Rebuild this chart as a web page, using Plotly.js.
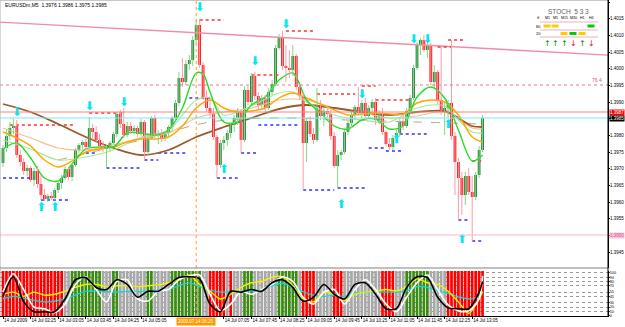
<!DOCTYPE html>
<html><head><meta charset="utf-8">
<script src="https://cdn.plot.ly/plotly-3.0.1.min.js"></script>
<style>html,body{margin:0;padding:0;background:#fff;}#chart{width:625px;height:327px;}</style>
</head><body><div id="chart"></div>
<script>
// ---------- DATA ----------
const symbolName = 'EURUSDm,M5';
const openP = [1.39717,1.39762,1.39798,1.39822,1.39828,1.39741,1.39720,1.39693,1.39702,1.39666,1.39693,1.39654,1.39621,1.39609,1.39618,1.39612,1.39636,1.39657,1.39672,1.39699,
1.39675,1.39711,1.39756,1.39771,1.39780,1.39765,1.39822,1.39810,1.39786,1.39768,1.39759,1.39765,1.39777,1.39804,1.39864,1.39834,1.39801,1.39828,1.39813,1.39822,
1.39804,1.39840,1.39750,1.39792,1.39852,1.39798,1.39807,1.39792,1.39807,1.39825,1.39852,1.39897,1.39972,1.39960,1.40014,1.40026,1.40086,1.40131,1.40011,1.39915,
1.39882,1.39867,1.39795,1.39711,1.39777,1.39786,1.39807,1.39831,1.39852,1.39870,1.39786,1.39936,1.39900,1.39978,1.39918,1.39891,1.39912,1.39882,1.39930,1.39954,
1.40062,1.40092,1.40008,1.40002,1.39996,1.40038,1.39945,1.39918,1.39777,1.39843,1.39804,1.39786,1.39888,1.39858,1.39873,1.39864,1.39798,1.39708,1.39741,1.39750,
1.39810,1.39837,1.39861,1.39885,1.39867,1.39897,1.39858,1.39882,1.39900,1.39846,1.39867,1.39810,1.39774,1.39765,1.39792,1.39807,1.39843,1.39828,1.39873,1.39912,
1.40002,1.40071,1.40086,1.40056,1.40071,1.39960,1.39990,1.39906,1.39870,1.39882,1.39897,1.39798,1.39720,1.39672,1.39621,1.39678,1.39630,1.39615,1.39681,1.39756];
const highP = [1.39771,1.39816,1.39840,1.39852,1.39846,1.39756,1.39732,1.39711,1.39708,1.39702,1.39708,1.39681,1.39639,1.39624,1.39630,1.39642,1.39666,1.39681,1.39708,1.39705,
1.39717,1.39762,1.39777,1.39786,1.39789,1.39855,1.39834,1.39828,1.39804,1.39783,1.39771,1.39783,1.39810,1.39870,1.39876,1.39882,1.39840,1.39840,1.39831,1.39828,
1.39849,1.39846,1.39801,1.39858,1.39861,1.39816,1.39819,1.39813,1.39831,1.39858,1.39906,1.39990,1.40032,1.40026,1.40041,1.40098,1.40146,1.40149,1.40020,1.39936,
1.39906,1.39882,1.39801,1.39786,1.39798,1.39816,1.39840,1.39861,1.39882,1.39876,1.39948,1.39948,1.39987,1.39990,1.39930,1.39921,1.39921,1.39942,1.39966,1.40071,
1.40104,1.40113,1.40071,1.40056,1.40071,1.40044,1.39954,1.39927,1.39852,1.39858,1.39822,1.39942,1.39906,1.39882,1.39888,1.39876,1.39810,1.39756,1.39756,1.39816,
1.39846,1.39870,1.39891,1.39945,1.39906,1.39912,1.39891,1.39909,1.39912,1.39876,1.39882,1.39816,1.39792,1.39801,1.39816,1.39852,1.39861,1.39882,1.39921,1.40011,
1.40080,1.40092,1.40101,1.40092,1.40077,1.40011,1.39996,1.40065,1.39897,1.39906,1.40086,1.39810,1.39732,1.39690,1.39690,1.39702,1.39678,1.39690,1.39768,1.39861];
const lowP = [1.39705,1.39750,1.39786,1.39804,1.39732,1.39708,1.39681,1.39678,1.39660,1.39648,1.39642,1.39606,1.39603,1.39600,1.39606,1.39606,1.39627,1.39639,1.39666,1.39666,
1.39663,1.39705,1.39747,1.39759,1.39756,1.39759,1.39786,1.39777,1.39762,1.39750,1.39702,1.39753,1.39771,1.39795,1.39822,1.39792,1.39795,1.39804,1.39804,1.39795,
1.39798,1.39726,1.39741,1.39786,1.39792,1.39774,1.39780,1.39783,1.39798,1.39813,1.39843,1.39888,1.39945,1.39951,1.39996,1.40008,1.40074,1.40002,1.39906,1.39870,
1.39852,1.39786,1.39672,1.39702,1.39756,1.39768,1.39792,1.39810,1.39831,1.39747,1.39780,1.39891,1.39894,1.39906,1.39876,1.39876,1.39870,1.39876,1.39921,1.39948,
1.40056,1.39996,1.39960,1.39972,1.39978,1.39936,1.39906,1.39636,1.39720,1.39795,1.39774,1.39780,1.39846,1.39828,1.39852,1.39786,1.39702,1.39642,1.39726,1.39744,
1.39801,1.39822,1.39846,1.39858,1.39852,1.39846,1.39852,1.39870,1.39831,1.39834,1.39801,1.39768,1.39756,1.39756,1.39786,1.39798,1.39816,1.39822,1.39867,1.39906,
1.39996,1.40041,1.40050,1.40032,1.39951,1.39942,1.39894,1.39861,1.39801,1.39852,1.39786,1.39621,1.39546,1.39561,1.39591,1.39621,1.39483,1.39606,1.39672,1.39750];
const closeP = [1.39762,1.39798,1.39822,1.39828,1.39741,1.39720,1.39693,1.39702,1.39666,1.39693,1.39654,1.39621,1.39609,1.39618,1.39612,1.39636,1.39657,1.39672,1.39699,1.39675,
1.39711,1.39756,1.39771,1.39780,1.39765,1.39822,1.39810,1.39786,1.39768,1.39759,1.39765,1.39777,1.39804,1.39864,1.39834,1.39801,1.39828,1.39813,1.39822,1.39804,
1.39840,1.39750,1.39792,1.39852,1.39798,1.39807,1.39792,1.39807,1.39825,1.39852,1.39897,1.39972,1.39960,1.40014,1.40026,1.40086,1.40131,1.40011,1.39915,1.39882,
1.39867,1.39795,1.39711,1.39777,1.39786,1.39807,1.39831,1.39852,1.39870,1.39786,1.39936,1.39900,1.39978,1.39918,1.39891,1.39912,1.39882,1.39930,1.39954,1.40062,
1.40092,1.40008,1.40002,1.39996,1.40038,1.39945,1.39918,1.39777,1.39843,1.39804,1.39786,1.39888,1.39858,1.39873,1.39864,1.39798,1.39708,1.39741,1.39750,1.39810,
1.39837,1.39861,1.39885,1.39867,1.39897,1.39858,1.39882,1.39900,1.39846,1.39867,1.39810,1.39774,1.39765,1.39792,1.39807,1.39843,1.39828,1.39873,1.39912,1.40002,
1.40071,1.40086,1.40056,1.40071,1.39960,1.39990,1.39906,1.39870,1.39882,1.39897,1.39798,1.39720,1.39672,1.39621,1.39678,1.39630,1.39615,1.39681,1.39756,1.39852];

// moving averages (bar index, price)
const fastIdx = [0,4,8,12,16,20,24,28,32,36,40,44,48,52,56,58,60,64,68,72,76,80,84,88,92,96,100,104,108,112,116,120,124,128,132,136,139];
const fastMA  = [1.39759,1.39777,1.39732,1.39672,1.39663,1.39714,1.39759,1.39765,1.39765,1.39807,1.39807,1.39801,1.39816,1.39882,1.39987,1.39984,1.39930,1.39840,1.39840,1.39891,1.39915,1.39966,1.39987,1.39906,1.39867,1.39828,1.39819,1.39846,1.39849,1.39819,1.39828,1.39915,1.39945,1.39912,1.39816,1.39723,1.39741];
const midIdx  = [0,4,8,12,16,20,24,28,32,36,40,44,48,52,56,60,64,68,72,76,80,84,88,92,96,100,104,108,112,116,120,124,128,132,136,139];
const midMA   = [1.39810,1.39792,1.39768,1.39726,1.39705,1.39723,1.39750,1.39759,1.39765,1.39780,1.39789,1.39789,1.39795,1.39828,1.39882,1.39906,1.39882,1.39870,1.39873,1.39882,1.39912,1.39927,1.39912,1.39894,1.39876,1.39861,1.39864,1.39867,1.39864,1.39864,1.39897,1.39906,1.39900,1.39861,1.39795,1.39780];
const slowIdx = [0,8,16,24,32,40,48,56,64,72,80,88,96,104,112,120,128,132,136,139];
const slowMA  = [1.39894,1.39870,1.39834,1.39795,1.39762,1.39741,1.39756,1.39795,1.39825,1.39852,1.39879,1.39891,1.39882,1.39870,1.39861,1.39870,1.39873,1.39852,1.39828,1.39825];
const lightIdx = [0,8,16,24,32,40,48,56,60,64,72,80,84,88,96,104,112,120,128,132,136,139];
const lightMA  = [1.39786,1.39759,1.39726,1.39735,1.39756,1.39795,1.39816,1.39906,1.39912,1.39861,1.39888,1.39927,1.39930,1.39900,1.39861,1.39846,1.39840,1.39882,1.39888,1.39846,1.39810,1.39807];
const tanIdx = [0,8,16,24,32,40,48,56,64,72,80,88,96,104,112,120,128,136,139];
const tanMA  = [1.39822,1.39792,1.39762,1.39756,1.39771,1.39792,1.39807,1.39852,1.39870,1.39882,1.39906,1.39906,1.39882,1.39870,1.39852,1.39858,1.39870,1.39822,1.39819];
const dashIdx = [16,40,60,80,100,120,139];
const dashMA  = [1.39726,1.39786,1.39840,1.39852,1.39846,1.39840,1.39834];

// signal arrows
const downArrowIdx = [4,25,35,57,73,82,104,119,123];
const downArrowP   = [1.39867,1.39885,1.39897,1.40182,1.40020,1.40131,1.39921,1.40086,1.40086];
const upArrowIdx   = [11,15,64,98,114,129,133];
const upArrowP     = [1.39582,1.39582,1.39696,1.39591,1.39786,1.39831,1.39486];

// dotted resistance / support segments
const resStart = [2,25,57,72,82,91,104,108,126,129,136];
const resEnd   = [21,35,64,80,90,102,108,118,130,134,139];
const resPrice = [1.39831,1.39867,1.40146,1.39981,1.40113,1.39924,1.39948,1.39906,1.40065,1.40086,1.39723];
const supStart = [0,11,24,30,41,45,54,62,69,74,87,97,106,111,115,132,136];
const supEnd   = [9,19,27,40,45,53,60,68,74,86,96,105,111,116,123,135,139];
const supPrice = [1.39672,1.39606,1.39747,1.39702,1.39726,1.39747,1.39912,1.39672,1.39747,1.39831,1.39636,1.39642,1.39762,1.39753,1.39804,1.39546,1.39483];

// horizontal levels & trend line anchors
const askPrice = 1.39870, bidPrice = 1.39852, lowLevel = 1.39501, fibLevel = 1.39951, fibText = '76.4';
const trendAnchorIdx = [0,139];
const trendAnchorP   = [1.40139,1.40061];
const markerBar = 56, markerLabel = '2009.07.14 06:25';

// axes labels
const priceTicks = [1.3945,1.3950,1.3955,1.3960,1.3965,1.3970,1.3975,1.3980,1.3985,1.3990,1.3995,1.4000,1.4005,1.4010,1.4015,1.4020];
const xTickIdx  = [0,8,16,24,32,40,64,72,80,88,96,104,112,120,128,136];
const xTickText = ['14 Jul 2009','14 Jul 02:25','14 Jul 03:05','14 Jul 03:45','14 Jul 04:25','14 Jul 05:05','14 Jul 07:05','14 Jul 07:45','14 Jul 08:25','14 Jul 09:05','14 Jul 09:45','14 Jul 10:25','14 Jul 11:05','14 Jul 11:45','14 Jul 12:25','14 Jul 13:05'];

// sub-window: trend state per bar and oscillators (0-100)
const trendState = ['RRRRRRRRRRRRRRRRRR','NN','GGGGGGGGG','NNN','GG','NNNNNNNN','GG','NNNNN','GGGGGGGGG','NN','RRRRR','N','R','NNN','GGG','NNNNNNN','GGGGGG','N','RRRR','NNNNN','RRR','NNNNNNNNNNN','RRRR','NNN','GGGGGGG','NNNNN','RRRRRRRRRRR'].join('').split('');
const oscIdx = [0,3,6,9,12,15,18,21,24,27,30,33,36,39,42,45,48,51,54,57,60,63,66,69,72,75,78,81,84,87,90,93,96,99,102,105,108,111,114,117,120,123,126,129,132,135,138,139];
const blackOsc  = [45,91,32,9,9,9,39,84,89,66,61,84,73,43,57,57,73,89,91,86,27,9,57,55,61,57,77,84,66,34,43,73,50,39,73,77,50,16,16,66,91,89,43,18,16,16,55,80];
const whiteOsc  = [55,98,61,20,16,7,27,73,91,61,32,80,84,39,34,57,61,84,93,95,50,11,27,57,50,61,73,91,80,43,27,55,61,27,61,84,61,27,9,43,77,95,61,25,11,11,39,93];
const yellowOsc = [50,55,45,55,48,50,57,66,73,73,68,70,70,68,70,72,77,86,95,73,57,39,50,66,77,80,90,91,70,39,32,55,50,36,50,55,57,61,58,68,86,77,73,57,32,5,40,55];
const cyanOsc   = [39,45,41,36,32,34,39,48,57,57,56,55,57,57,57,59,61,70,77,68,60,55,56,57,58,61,70,76,66,56,48,45,48,45,52,55,56,55,55,58,68,66,58,52,44,39,45,57];
const oscLevels = [100,90,80,70,55,45,30,20,10,0];

// multi-timeframe stochastic panel
const stochTitle = 'STOCH  5 3 3';
const tfLabels = ['M1','M5','M15','M30','H1','H4'];
const tfZone   = ['80','80','20','20','20','80'];
const tfZoneCol= ['Y','Y','Y','G','Y','G'];
const tfDir    = ['up','up','up','down','up','down'];

// ---------- BUILD ----------
const N = closeP.length;
const idx = Array.from({length:N},(_,i)=>i);
const traces = [];

// subwindow state columns
const Y2MIN = -1, Y2MAX = 104.5;
const stateColor = {R:'#ff0000', G:'#3b8a14', N:'#a8a8a8'};
traces.push({type:'bar', x:idx, y:idx.map(()=>Y2MAX-Y2MIN), base:Y2MIN, width:0.78,
  marker:{color:trendState.map(s=>stateColor[s]), line:{width:0}}, xaxis:'x', yaxis:'y2', hoverinfo:'skip'});
// oscillators
[[cyanOsc,'#00e0e0',1.2],[yellowOsc,'#f0f000',1.4],[whiteOsc,'#ffffff',1.6],[blackOsc,'#000000',1.6]].forEach(([v,c,w])=>{
  traces.push({type:'scatter',mode:'lines',x:oscIdx,y:v,xaxis:'x',yaxis:'y2',line:{color:c,width:w,shape:'spline',smoothing:0.8},hoverinfo:'skip'});
});

// trend line (ray through two anchors)
const tSlope = (trendAnchorP[1]-trendAnchorP[0])/(trendAnchorIdx[1]-trendAnchorIdx[0]);
const xr0 = -0.87, xr1 = 175.36;
traces.push({type:'scatter',mode:'lines',x:[xr0,xr1],y:[trendAnchorP[0]+tSlope*(xr0-trendAnchorIdx[0]), trendAnchorP[0]+tSlope*(xr1-trendAnchorIdx[0])],
  line:{color:'#f08ca8',width:1.4},xaxis:'x',yaxis:'y',hoverinfo:'skip'});

// dotted segments
function segs(s,e,p){const X=[],Y=[];s.forEach((v,k)=>{X.push(v,e[k],null);Y.push(p[k],p[k],null);});return [X,Y];}
const [rX,rY] = segs(resStart,resEnd,resPrice);
const [sX,sY] = segs(supStart,supEnd,supPrice);
traces.push({type:'scatter',mode:'lines',x:rX,y:rY,line:{color:'#ff3030',width:1.5,dash:'dot'},xaxis:'x',yaxis:'y',hoverinfo:'skip'});
traces.push({type:'scatter',mode:'lines',x:sX,y:sY,line:{color:'#3030ff',width:1.5,dash:'dot'},xaxis:'x',yaxis:'y',hoverinfo:'skip'});

// moving averages
[[dashIdx,dashMA,'#c9a27e',1,'dash'],[tanIdx,tanMA,'#f5c08a',1.2,'solid'],[slowIdx,slowMA,'#9a5a2a',1.8,'solid'],
 [lightIdx,lightMA,'#a8e8a0',1.2,'solid'],[midIdx,midMA,'#ffa500',1.4,'solid'],[fastIdx,fastMA,'#22dd22',1.4,'solid']].forEach(([x,y,c,w,d])=>{
  traces.push({type:'scatter',mode:'lines',x:x,y:y,line:{color:c,width:w,dash:d,shape:'spline',smoothing:0.9},xaxis:'x',yaxis:'y',hoverinfo:'skip'});
});

// wicks
const uwX=[],uwY=[],dwX=[],dwY=[];
for(let i=0;i<N;i++){
  if(closeP[i]>=openP[i]){uwX.push(i,i,null);uwY.push(lowP[i],highP[i],null);}
  else {dwX.push(i,i,null);dwY.push(lowP[i],highP[i],null);}
}
traces.push({type:'scatter',mode:'lines',x:uwX,y:uwY,line:{color:'#80d880',width:1},xaxis:'x',yaxis:'y',hoverinfo:'skip'});
traces.push({type:'scatter',mode:'lines',x:dwX,y:dwY,line:{color:'#ff9aa8',width:1},xaxis:'x',yaxis:'y',hoverinfo:'skip'});
// bodies
traces.push({type:'bar',x:idx,base:openP,y:idx.map(i=>closeP[i]-openP[i]),width:0.8,
  marker:{color:idx.map(i=>closeP[i]>=openP[i]?'#1f7f35':'#ff1010'),line:{width:0}},xaxis:'x',yaxis:'y',hoverinfo:'skip'});

// arrows
traces.push({type:'scatter',mode:'text',x:downArrowIdx,y:downArrowP,text:downArrowIdx.map(()=>'⬇'),
  textfont:{family:'DejaVu Sans',size:12,color:'#00e8f0'},xaxis:'x',yaxis:'y',hoverinfo:'skip'});
traces.push({type:'scatter',mode:'text',x:upArrowIdx,y:upArrowP,text:upArrowIdx.map(()=>'⬆'),
  textfont:{family:'DejaVu Sans',size:12,color:'#00e8f0'},xaxis:'x',yaxis:'y',hoverinfo:'skip'});

// ---------- LAYOUT ----------
const PW = 608, PH = 316;
const px = v => v/PW, py = v => 1 - v/PH;
const mainBottom = (PH-268)/PH, subTop = (PH-271)/PH;
const shapes = [
  {type:'line',xref:'paper',yref:'y',x0:0,x1:1,y0:askPrice,y1:askPrice,line:{color:'#ff8080',width:1}},
  {type:'line',xref:'paper',yref:'y',x0:0,x1:1,y0:bidPrice,y1:bidPrice,line:{color:'#70f0f0',width:1}},
  {type:'line',xref:'paper',yref:'y',x0:0,x1:1,y0:lowLevel,y1:lowLevel,line:{color:'#ffb4c8',width:1}},
  {type:'line',xref:'paper',yref:'y',x0:0,x1:1,y0:fibLevel,y1:fibLevel,line:{color:'#e07c90',width:1,dash:'dot'}},
  {type:'line',xref:'x',yref:'paper',x0:markerBar,x1:markerBar,y0:0,y1:1,line:{color:'#ffa020',width:1,dash:'dot'}},
  {type:'line',xref:'paper',yref:'paper',x0:0,x1:1,y0:1,y1:1,line:{color:'#909090',width:1}},
  {type:'line',xref:'paper',yref:'paper',x0:0,x1:0,y0:0,y1:1,line:{color:'#b0b0b0',width:1}},
  {type:'line',xref:'paper',yref:'paper',x0:0,x1:1,y0:mainBottom,y1:mainBottom,line:{color:'#808080',width:1}},
  {type:'line',xref:'paper',yref:'paper',x0:1,x1:1,y0:0,y1:1,line:{color:'#000',width:1}}
];
const annotations = [
  {xref:'paper',yref:'paper',x:px(3),y:py(5),xanchor:'left',yanchor:'middle',showarrow:false,
   text:symbolName+'  '+[openP[N-1],highP[N-1],lowP[N-1],closeP[N-1]].map(v=>v.toFixed(4)).join(' '),font:{size:5,color:'#000'}},
  {xref:'paper',yref:'y',x:1,xanchor:'left',xshift:1,y:askPrice,showarrow:false,text:askPrice.toFixed(4),bgcolor:'#ff0000',font:{size:4.5,color:'#fff'},borderpad:0},
  {xref:'paper',yref:'y',x:1,xanchor:'left',xshift:1,y:bidPrice,showarrow:false,text:bidPrice.toFixed(4),bgcolor:'#000000',font:{size:4.5,color:'#fff'},borderpad:0},
  {xref:'paper',yref:'y',x:1,xanchor:'left',xshift:1,y:lowLevel,showarrow:false,text:lowLevel.toFixed(4),bgcolor:'#ffc0d8',font:{size:4.5,color:'#c060a0'},borderpad:0},
  {xref:'paper',yref:'y',x:px(604),xanchor:'right',y:fibLevel,yanchor:'bottom',showarrow:false,text:fibText,font:{size:5,color:'#d06070'}},
  {xref:'x',yref:'paper',x:markerBar,xanchor:'center',y:0,yanchor:'top',yshift:-1,showarrow:false,text:markerLabel,bgcolor:'#ff9a00',font:{size:4.5,color:'#fff'},borderpad:1},
  {xref:'paper',yref:'paper',x:px(568),xanchor:'center',y:py(12),yanchor:'middle',showarrow:false,text:stochTitle,font:{size:6.5,color:'#606060'}}
];
// stoch table
const tfCols = [547,555,564,573,582,591];
const zoneRowY = {'80':26,'20':33.5};
[22,30,37].forEach(yy=>shapes.push({type:'line',xref:'paper',yref:'paper',x0:px(540),x1:px(598),y0:py(yy),y1:py(yy),line:{color:'#f0b0c0',width:1}}));
const cAnn = (x,y,text,font)=>({xref:'paper',yref:'paper',x:px(x),y:py(y),xanchor:'center',yanchor:'middle',showarrow:false,text:text,font:font});
annotations.push(cAnn(538,18,'tf',{size:4,color:'#000'}));
annotations.push(cAnn(538,zoneRowY['80'],'80',{size:4,color:'#000'}));
annotations.push(cAnn(538,zoneRowY['20'],'20',{size:4,color:'#000'}));
tfLabels.forEach((t,k)=>{
  const c = tfCols[k];
  annotations.push(cAnn(c,18,t,{size:3.6,color:'#000'}));
  const ry = zoneRowY[tfZone[k]];
  shapes.push({type:'rect',xref:'paper',yref:'paper',x0:px(c-3.5),x1:px(c+3.5),y0:py(ry+1.5),y1:py(ry-1.5),
    fillcolor: tfZoneCol[k]==='G'?'#00cc00':'#ffcc00',line:{width:0}});
  annotations.push(cAnn(c,43,tfDir[k]==='up'?'↑':'↓',{family:'DejaVu Sans',size:8,color:tfDir[k]==='up'?'#008800':'#ff0000'}));
});

const layout = {
  width:625, height:327, margin:{l:0,r:17,t:0,b:11}, paper_bgcolor:'#fff', plot_bgcolor:'#fff',
  showlegend:false, barmode:'overlay', dragmode:false,
  font:{family:'Liberation Sans, Arial, sans-serif',size:5,color:'#000'},
  xaxis:{domain:[0,1],range:[xr0,xr1],anchor:'y2',tickvals:xTickIdx,ticktext:xTickText,ticks:'outside',ticklen:2,tickcolor:'#000',tickangle:0,
    ticklabelposition:'outside right',tickfont:{size:4.5},showgrid:false,zeroline:false,showline:true,linecolor:'#000',linewidth:1},
  yaxis:{domain:[mainBottom,1],range:[1.39402,1.40206],side:'right',anchor:'x',tickvals:priceTicks,
    ticktext:priceTicks.map(v=>(Math.abs(v-1.3985)<1e-6||Math.abs(v-1.3950)<1e-6)?'':v.toFixed(4)),ticks:'outside',ticklen:1,ticklabelstandoff:-1,
    tickcolor:'#000',showgrid:false,zeroline:false,showline:true,linecolor:'#000',tickfont:{size:4.5}},
  yaxis2:{domain:[0,subTop],range:[Y2MIN,Y2MAX],side:'right',anchor:'x',tickvals:oscLevels,ticktext:oscLevels.map(String),ticks:'outside',ticklen:1,ticklabelstandoff:-1,
    showgrid:true,gridcolor:'#999',griddash:'dot',gridwidth:1,zeroline:false,showline:true,linecolor:'#000',tickfont:{size:3.8}},
  shapes:shapes, annotations:annotations
};
Plotly.newPlot('chart',traces,layout,{staticPlot:true,displayModeBar:false});
</script></body></html>
